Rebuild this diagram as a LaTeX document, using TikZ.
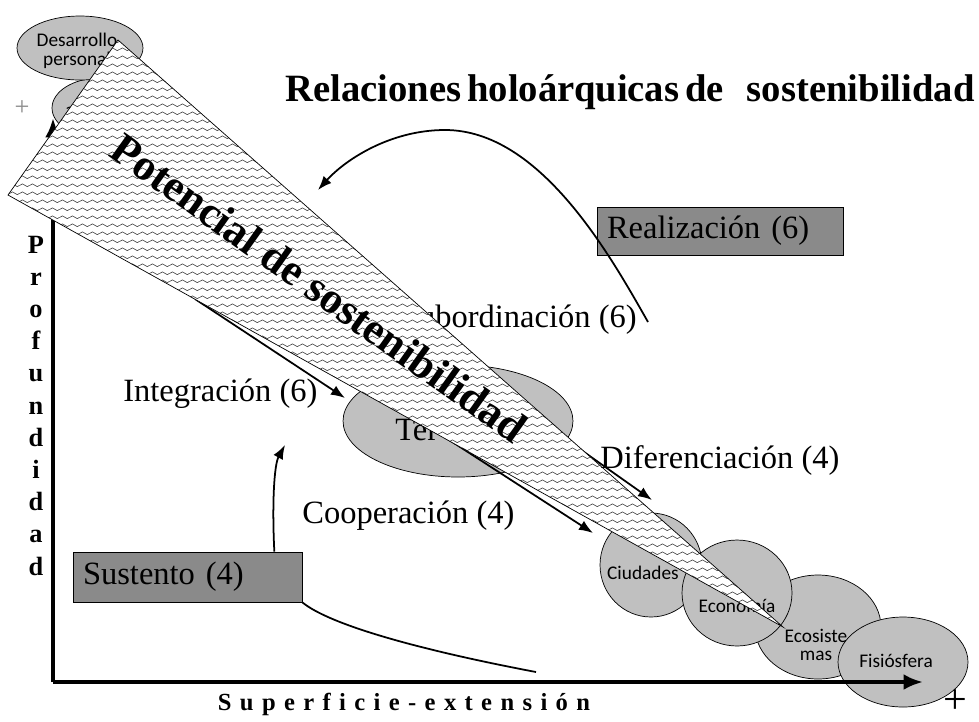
\documentclass[tikz,border=0pt]{standalone}
\usepackage{fontspec}
\setmainfont{Liberation Serif}
\newfontfamily\calibri{Carlito}
\newfontfamily\spacedfont[LetterSpace=34]{Liberation Serif}
\usetikzlibrary{arrows.meta,shapes.geometric,patterns}

\definecolor{blobgray}{RGB}{192,192,192}
\definecolor{boxgray}{RGB}{138,138,138}

% horizontal wavy lines for the wedge
\pgfdeclarepatternformonly{wavy}{\pgfpoint{0pt}{0pt}}{\pgfpoint{5.6pt}{4.4pt}}{\pgfpoint{5.6pt}{4.4pt}}{%
  \pgfsetlinewidth{0.35pt}%
  \pgfpathmoveto{\pgfpoint{0pt}{2.2pt}}%
  \pgfpathsine{\pgfpoint{1.4pt}{0.8pt}}%
  \pgfpathcosine{\pgfpoint{1.4pt}{-0.8pt}}%
  \pgfpathsine{\pgfpoint{1.4pt}{-0.8pt}}%
  \pgfpathcosine{\pgfpoint{1.4pt}{0.8pt}}%
  \pgfusepath{stroke}}

\tikzset{
  blob/.style={ellipse,draw,thin,fill=blobgray,inner sep=0pt},
  blobtext/.style={font=\calibri\fontsize{11}{10.5}\selectfont,align=center,inner sep=0pt},
  lbl/.style={font=\fontsize{18.5}{22}\selectfont,inner sep=0pt},
  tag/.style={lbl,draw,fill=boxgray,align=left,inner xsep=0.2cm},
  arr/.style={line width=1pt,-{Latex[length=8pt,width=6pt]}},
  axis/.style={line width=2.3pt,-{Latex[length=11pt,width=9pt]}},
  wedge/.style={draw,thin,preaction={fill=white},pattern=wavy,pattern color=black!75},
}

\begin{document}
\begin{tikzpicture}[x=0.02cm,y=-0.02cm]
  \useasboundingbox (0,0) rectangle (979,721);
  % blobs
  \node[blob,minimum width=1.92cm,minimum height=1.2cm] (auto) at (100,108) {};
  \node[blob,minimum width=2.52cm,minimum height=1.28cm] (desarrollo) at (80,48) {};
  \node[blob,minimum width=4.6cm,minimum height=2.24cm] (tierra) at (458,421) {};
  \node[blob,minimum width=2.04cm,minimum height=2.08cm] (ciudades) at (651,565) {};
  \node[blob,minimum width=2.52cm,minimum height=2.08cm] (ecosistemas) at (818,627) {};
  \node[blob,minimum width=2.2cm,minimum height=2.12cm] (economia) at (737,593) {};
  \node[blob,minimum width=2.6cm,minimum height=1.8cm] (fisiosfera) at (903,662) {};
  \node[blobtext] (desarrollo-txt) at (77,51) {Desarrollo\\personal};
  \node[blobtext] (auto-txt) at (70,112) {a};
  \node[blobtext] (ciudades-txt) at (643,573) {Ciudades};
  \node[blobtext] (economia-txt) at (737,606) {Economía};
  \node[blobtext] (ecosistemas-txt) at (816,645) {Ecosiste\\mas};
  \node[blobtext] (fisiosfera-txt) at (896,661) {Fisiósfera};
  \node[lbl,anchor=base west] (tierra-txt) at (395,440) {Ter};
  \node[lbl,anchor=base east] (subord) at (637,327) {Subordinación (6)};

  % axes
  \coordinate (origin) at (53,682);
  \coordinate (ytip) at (53,118);
  \coordinate (xtip) at (923,682);
  \draw[axis] (origin) -- (ytip);
  \draw[axis] (origin) -- (xtip);
  \foreach \ch [count=\i] in {P,r,o,f,u,n,d,i,d,a,d}
    \node[font=\bfseries\fontsize{15}{15}\selectfont,anchor=base,inner sep=0pt] (prof-\i) at (36,{253+32.2*(\i-1)}) {\ch};
  \node[font=\spacedfont\bfseries\fontsize{14}{14}\selectfont,anchor=base,inner sep=0pt] (xlabel) at (404,710) {Superficie-extensión};
  \node[text=black!45,font=\fontsize{15}{15}\selectfont,inner sep=0pt] (plus-y) at (22,108) {+};
  \node[font=\fontsize{24}{24}\selectfont,inner sep=0pt] (plus-x) at (955,702) {+};

  % arrows under the wedge
  \coordinate (integ-start) at (195,299);
  \coordinate (integ-end) at (345,398);
  \coordinate (coop-start) at (440,434);
  \coordinate (coop-end) at (593,533);
  \coordinate (dif-start) at (560,435);
  \coordinate (dif-end) at (652,500);
  \draw[arr] (integ-start) -- (integ-end);
  \draw[arr] (coop-start) -- (coop-end);
  \draw[arr] (dif-start) -- (dif-end);

  % wedge
  \coordinate (wedge-top) at (118,40);
  \coordinate (wedge-left) at (8,195);
  \coordinate (wedge-tip) at (783,627);
  \draw[wedge] (wedge-top) -- (wedge-tip) -- (wedge-left) -- cycle;
  \node[font=\bfseries\fontsize{25}{25}\selectfont,rotate=-35.5,inner sep=0pt] (potencial) at (319,288) {Potencial de sostenibilidad};

  % labels and boxes
  \node[font=\bfseries\fontsize{22}{26}\selectfont,anchor=base east,inner sep=0pt] (title) at (975,101) {Relaciones\hspace{0.15em}holoárquicas\hspace{0.15em}de\hspace{0.6em}sostenibilidad};
  \node[lbl,anchor=base west] (integ) at (123,401) {Integración (6)};
  \node[lbl,anchor=base west] (coop) at (302,523) {Cooperación (4)};
  \node[lbl,anchor=base west] (dif) at (600,468) {Diferenciación (4)};
  \node[tag,text width=4.52cm,minimum height=0.96cm] (realiz) at (720,231) {Realización (6)};
  \node[tag,text width=4.18cm,minimum height=1cm] (sustento) at (187.5,577) {Sustento (4)};

  \coordinate (realiz-start) at (648,322);
  \coordinate (realiz-end) at (318,190);
  \draw[arr] (realiz-start) .. controls (610,255) and (540,130) .. (445,130) .. controls (390,130) and (345,160) .. (realiz-end);
  \coordinate (sust-end) at (285,445);
  \coordinate (sust-tail) at (536,672);
  \draw[arr] ([xshift=-0.56cm]sustento.north east) .. controls (272,505) and (274,465) .. (sust-end);
  \draw[line width=1pt] (sustento.south east) .. controls (330,625) and (420,650) .. (sust-tail);
\end{tikzpicture}
\end{document}
